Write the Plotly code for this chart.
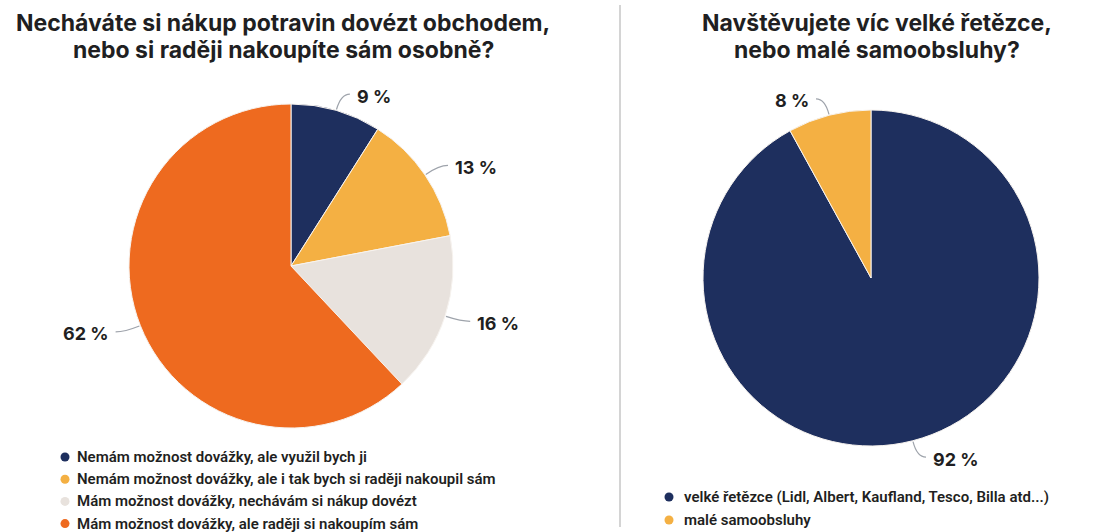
import math
import plotly.graph_objects as go

W, H = 1107, 532

# Question 1: delivery vs. shopping in person
q1_title = ["Necháváte si nákup potravin dovézt obchodem,",
            "nebo si raději nakoupíte sám osobně?"]
q1_labels = [
    "Nemám možnost dovážky, ale využil bych ji",
    "Nemám možnost dovážky, ale i tak bych si raději nakoupil sám",
    "Mám možnost dovážky, nechávám si nákup dovézt",
    "Mám možnost dovážky, ale raději si nakoupím sám",
]
q1_values = [9, 13, 16, 62]
q1_colors = ["#1e2f5e", "#f4b043", "#e8e2dd", "#ee6a1f"]

# Question 2: big chains vs. small shops
q2_title = ["Navštěvujete víc velké řetězce,",
            "nebo malé samoobsluhy?"]
q2_labels = [
    "velké řetězce (Lidl, Albert, Kaufland, Tesco, Billa atd...)",
    "malé samoobsluhy",
]
q2_values = [92, 8]
q2_colors = ["#1e2f5e", "#f4b043"]

TEXT = "#1f1f22"
LEADER = "#9ea3ab"
TITLE_FONT = "Inter"
LABEL_FONT = "Inter"
LEGEND_FONT = "Roboto"

# pie placement in pixels: centre x, centre y, radius, plus title/legend anchors
PIES = [
    dict(cx=291, cy=266, r=162, title_x=283,
         legend_dot_x=65, legend_text_x=75, legend_y0=457, row=22.2,
         labels=q1_labels, values=q1_values, colors=q1_colors, title=q1_title),
    dict(cx=871, cy=278, r=168, title_x=877,
         legend_dot_x=669, legend_text_x=682, legend_y0=497, row=23,
         labels=q2_labels, values=q2_values, colors=q2_colors, title=q2_title),
]
TITLE_ROWS = [23, 50]

fig = go.Figure()
shapes = []
annotations = []

for p in PIES:
    cx, cy, r = p["cx"], p["cy"], p["r"]
    fig.add_trace(go.Pie(
        labels=p["labels"], values=p["values"],
        marker=dict(colors=p["colors"], line=dict(color="#f7f3ef", width=1)),
        sort=False, direction="clockwise", rotation=0,
        textinfo="none", hoverinfo="label+percent", showlegend=False,
        domain=dict(x=[(cx - r) / W, (cx + r) / W],
                    y=[1 - (cy + r) / H, 1 - (cy - r) / H]),
    ))

    # outside value labels with curved leader lines
    total = sum(p["values"])
    cum = 0
    for v in p["values"]:
        mid = (cum + v / 2) / total
        cum += v
        th = 2 * math.pi * mid
        s, c = math.sin(th), math.cos(th)
        side = 1 if s >= 0 else -1
        x0, y0 = cx + (r + 1) * s, cy - (r + 1) * c
        xe, ye = cx + (r + 17) * s, cy - (r + 17) * c
        x1, y1 = xe + side * 9, ye
        shapes.append(dict(
            type="path", xref="x", yref="y",
            path=f"M {x0:.1f},{y0:.1f} Q {xe:.1f},{ye:.1f} {x1:.1f},{y1:.1f}",
            line=dict(color=LEADER, width=1.2),
        ))
        annotations.append(dict(
            x=x1 + side * 5, y=y1 + 2, xref="x", yref="y",
            text=f"{v} %", showarrow=False,
            xanchor="left" if side > 0 else "right", yanchor="middle",
            font=dict(family=LABEL_FONT, size=18, color=TEXT, weight=700),
        ))

    # chart title, one annotation per line
    for line, ty in zip(p["title"], TITLE_ROWS):
        annotations.append(dict(
            x=p["title_x"], y=ty, xref="x", yref="y", text=line,
            showarrow=False, xanchor="center", yanchor="middle",
            font=dict(family=TITLE_FONT, size=23, color=TEXT, weight=700),
        ))

    # legend: dot + label rows
    n = len(p["labels"])
    rows = [p["legend_y0"] + i * p["row"] for i in range(n)]
    fig.add_trace(go.Scatter(
        x=[p["legend_dot_x"]] * n, y=rows, mode="markers",
        marker=dict(size=9, color=p["colors"]),
        cliponaxis=False, showlegend=False, hoverinfo="skip",
    ))
    for lab, ry in zip(p["labels"], rows):
        annotations.append(dict(
            x=p["legend_text_x"], y=ry, xref="x", yref="y", text=lab,
            showarrow=False, xanchor="left", yanchor="middle",
            font=dict(family=LEGEND_FONT, size=15, color=TEXT, weight=600),
        ))

# divider between the two charts
shapes.append(dict(type="line", xref="x", yref="y", x0=620, x1=620, y0=5, y1=527,
                   line=dict(color="#d4d4d4", width=2)))

fig.update_layout(
    width=W, height=H,
    margin=dict(l=0, r=0, t=0, b=0),
    paper_bgcolor="white", plot_bgcolor="rgba(0,0,0,0)",
    xaxis=dict(range=[0, W], visible=False, fixedrange=True, domain=[0, 1]),
    yaxis=dict(range=[H, 0], visible=False, fixedrange=True, domain=[0, 1]),
    shapes=shapes, annotations=annotations,
    showlegend=False,
)

fig.write_html("out.html")
